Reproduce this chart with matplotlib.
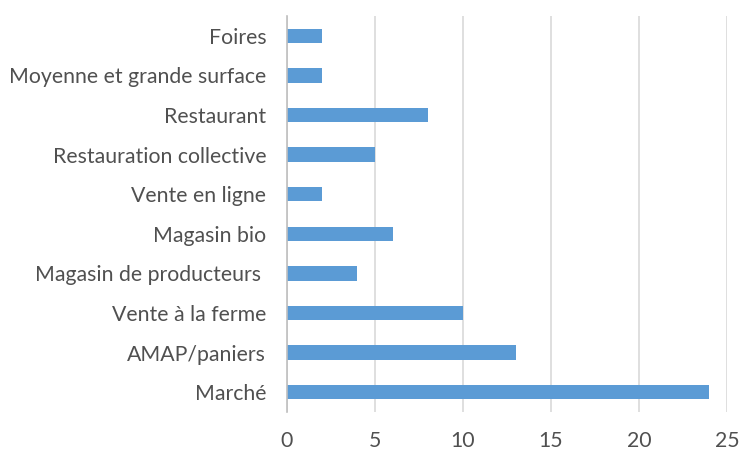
import matplotlib.pyplot as plt

categories = ["Marché", "AMAP/paniers", "Vente à la ferme", "Magasin de producteurs ",
              "Magasin bio", "Vente en ligne", "Restauration collective", "Restaurant",
              "Moyenne et grande surface", "Foires"]
values = [24, 13, 10, 4, 6, 2, 5, 8, 2, 2]
x_ticks = [0, 5, 10, 15, 20, 25]

plt.rcParams["font.family"] = ["Lato", "DejaVu Sans"]

fig = plt.figure(figsize=(7.41, 4.53), dpi=100)
ax = fig.add_axes([0.3873, 0.0905, 0.5938, 0.8742])

ax.barh(range(len(categories)), values, height=0.36, color="#5B9BD5", zorder=3)
ax.set_yticks(range(len(categories)))
ax.set_yticklabels(categories)
ax.set_ylim(-0.5, len(categories) - 0.5)
ax.set_xlim(0, 25)
ax.set_xticks(x_ticks)

ax.grid(axis="x", color="#D9D9D9", linewidth=1.2, zorder=0)
for s in ["top", "right", "bottom"]:
    ax.spines[s].set_visible(False)
ax.spines["left"].set_color("#BFBFBF")
ax.spines["left"].set_linewidth(1.2)
ax.spines["left"].set_zorder(4)
ax.tick_params(axis="both", length=0, labelsize=15.3, labelcolor="#505050")
ax.tick_params(axis="y", pad=15)
ax.tick_params(axis="x", pad=14)

plt.savefig("out.png", dpi=100)
